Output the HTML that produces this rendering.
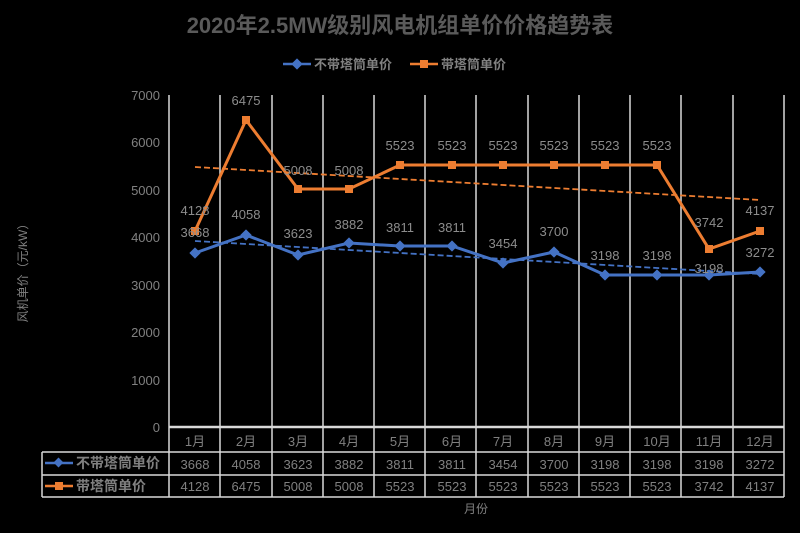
<!DOCTYPE html>
<html><head><meta charset="utf-8"><style>
body{margin:0;background:#000;}
svg{display:block;font-family:"Liberation Sans","Noto Sans CJK SC",sans-serif;}
</style></head><body>
<svg width="800" height="533" viewBox="0 0 800 533">
<rect width="800" height="533" fill="#000"/>
<text x="400" y="33" text-anchor="middle" font-size="22" font-weight="bold" fill="#5a5a5a">2020年2.5MW级别风电机组单价价格趋势表</text>
<!-- legend -->
<line x1="283" y1="64" x2="311" y2="64" stroke="#4472C4" stroke-width="2.5"/>
<rect x="293" y="60" width="8" height="8" fill="#4472C4" transform="rotate(45 297 64)"/>
<text x="314" y="69" font-size="13" fill="#808080" font-weight="bold">不带塔筒单价</text>
<line x1="410" y1="64" x2="438" y2="64" stroke="#ED7D31" stroke-width="2.5"/>
<rect x="420" y="60" width="8" height="8" fill="#ED7D31"/>
<text x="441" y="69" font-size="13" fill="#808080" font-weight="bold">带塔筒单价</text>
<!-- y labels -->
<g font-size="13" fill="#808080" text-anchor="end">
<text x="160" y="100">7000</text><text x="160" y="147">6000</text><text x="160" y="195">5000</text>
<text x="160" y="242">4000</text><text x="160" y="290">3000</text><text x="160" y="337">2000</text>
<text x="160" y="385">1000</text><text x="160" y="432">0</text>
</g>
<text transform="translate(27 270) rotate(-90)" text-anchor="middle" font-size="12" fill="#808080">风机单价（元/kW）</text>
<!-- grid -->
<g stroke="#d9d9d9" stroke-width="1.5">
<line x1="169" y1="95" x2="169" y2="497"/><line x1="220" y1="95" x2="220" y2="497"/><line x1="272" y1="95" x2="272" y2="497"/>
<line x1="323" y1="95" x2="323" y2="497"/><line x1="374" y1="95" x2="374" y2="497"/><line x1="425" y1="95" x2="425" y2="497"/>
<line x1="476" y1="95" x2="476" y2="497"/><line x1="528" y1="95" x2="528" y2="497"/><line x1="579" y1="95" x2="579" y2="497"/>
<line x1="630" y1="95" x2="630" y2="497"/><line x1="681" y1="95" x2="681" y2="497"/><line x1="733" y1="95" x2="733" y2="497"/>
<line x1="784" y1="95" x2="784" y2="497"/>
<line x1="169" y1="427" x2="784" y2="427" stroke-width="2.5"/>
<line x1="169" y1="452" x2="784" y2="452"/>
<line x1="42" y1="452" x2="169" y2="452"/>
<line x1="42" y1="475" x2="784" y2="475"/>
<line x1="42" y1="497" x2="784" y2="497"/>
<line x1="42" y1="452" x2="42" y2="497"/>
</g>
<!-- trend lines -->
<line x1="195" y1="167" x2="760" y2="200" stroke="#ED7D31" stroke-width="1.8" stroke-dasharray="6,3"/>
<line x1="195" y1="241" x2="760" y2="274" stroke="#4472C4" stroke-width="1.8" stroke-dasharray="6,3"/>
<!-- series -->
<polyline fill="none" stroke="#ED7D31" stroke-width="3" points="195,231 246,120 298,189 349,189 400,165 452,165 503,165 554,165 605,165 657,165 709,249 760,231"/>
<polyline fill="none" stroke="#4472C4" stroke-width="3" points="195,253 246,235 298,255 349,243 400,246 452,246 503,263 554,252 605,275 657,275 709,275 760,272"/>
<g fill="#ED7D31">
<rect x="191" y="227" width="8" height="8"/><rect x="242" y="116" width="8" height="8"/><rect x="294" y="185" width="8" height="8"/><rect x="345" y="185" width="8" height="8"/><rect x="396" y="161" width="8" height="8"/><rect x="448" y="161" width="8" height="8"/><rect x="499" y="161" width="8" height="8"/><rect x="550" y="161" width="8" height="8"/><rect x="601" y="161" width="8" height="8"/><rect x="653" y="161" width="8" height="8"/><rect x="705" y="245" width="8" height="8"/><rect x="756" y="227" width="8" height="8"/>
</g>
<g fill="#4472C4">
<rect x="191" y="249" width="8" height="8" transform="rotate(45 195 253)"/><rect x="242" y="231" width="8" height="8" transform="rotate(45 246 235)"/><rect x="294" y="251" width="8" height="8" transform="rotate(45 298 255)"/><rect x="345" y="239" width="8" height="8" transform="rotate(45 349 243)"/><rect x="396" y="242" width="8" height="8" transform="rotate(45 400 246)"/><rect x="448" y="242" width="8" height="8" transform="rotate(45 452 246)"/><rect x="499" y="259" width="8" height="8" transform="rotate(45 503 263)"/><rect x="550" y="248" width="8" height="8" transform="rotate(45 554 252)"/><rect x="601" y="271" width="8" height="8" transform="rotate(45 605 275)"/><rect x="653" y="271" width="8" height="8" transform="rotate(45 657 275)"/><rect x="705" y="271" width="8" height="8" transform="rotate(45 709 275)"/><rect x="756" y="268" width="8" height="8" transform="rotate(45 760 272)"/>
</g>
<!-- data labels -->
<g font-size="13" fill="#8c8c8c" text-anchor="middle">
<text x="195" y="215">4128</text><text x="246" y="105">6475</text><text x="298" y="175">5008</text><text x="349" y="175">5008</text>
<text x="400" y="150">5523</text><text x="452" y="150">5523</text><text x="503" y="150">5523</text><text x="554" y="150">5523</text>
<text x="605" y="150">5523</text><text x="657" y="150">5523</text><text x="709" y="227">3742</text><text x="760" y="215">4137</text>
<text x="195" y="237">3668</text><text x="246" y="219">4058</text><text x="298" y="238">3623</text><text x="349" y="229">3882</text>
<text x="400" y="232">3811</text><text x="452" y="232">3811</text><text x="503" y="248">3454</text><text x="554" y="236">3700</text>
<text x="605" y="260">3198</text><text x="657" y="260">3198</text><text x="709" y="273">3198</text><text x="760" y="257">3272</text>
</g>
<!-- table -->
<g font-size="13" fill="#808080" text-anchor="middle">
<text x="195" y="446">1月</text><text x="246" y="446">2月</text><text x="298" y="446">3月</text><text x="349" y="446">4月</text><text x="400" y="446">5月</text><text x="452" y="446">6月</text><text x="503" y="446">7月</text><text x="554" y="446">8月</text><text x="605" y="446">9月</text><text x="657" y="446">10月</text><text x="709" y="446">11月</text><text x="760" y="446">12月</text>
<text x="195" y="469">3668</text><text x="246" y="469">4058</text><text x="298" y="469">3623</text><text x="349" y="469">3882</text><text x="400" y="469">3811</text><text x="452" y="469">3811</text><text x="503" y="469">3454</text><text x="554" y="469">3700</text><text x="605" y="469">3198</text><text x="657" y="469">3198</text><text x="709" y="469">3198</text><text x="760" y="469">3272</text>
<text x="195" y="491">4128</text><text x="246" y="491">6475</text><text x="298" y="491">5008</text><text x="349" y="491">5008</text><text x="400" y="491">5523</text><text x="452" y="491">5523</text><text x="503" y="491">5523</text><text x="554" y="491">5523</text><text x="605" y="491">5523</text><text x="657" y="491">5523</text><text x="709" y="491">3742</text><text x="760" y="491">4137</text>
<text x="476" y="513" font-size="12">月份</text>
</g>
<line x1="45" y1="463" x2="73" y2="463" stroke="#4472C4" stroke-width="2.5"/>
<rect x="55" y="459" width="7" height="7" fill="#4472C4" transform="rotate(45 58.5 462.5)"/>
<text x="76" y="468" font-size="14" fill="#808080" font-weight="bold">不带塔筒单价</text>
<line x1="45" y1="486" x2="73" y2="486" stroke="#ED7D31" stroke-width="2.5"/>
<rect x="55" y="482" width="8" height="8" fill="#ED7D31"/>
<text x="76" y="491" font-size="14" fill="#808080" font-weight="bold">带塔筒单价</text>
</svg>
</body></html>
